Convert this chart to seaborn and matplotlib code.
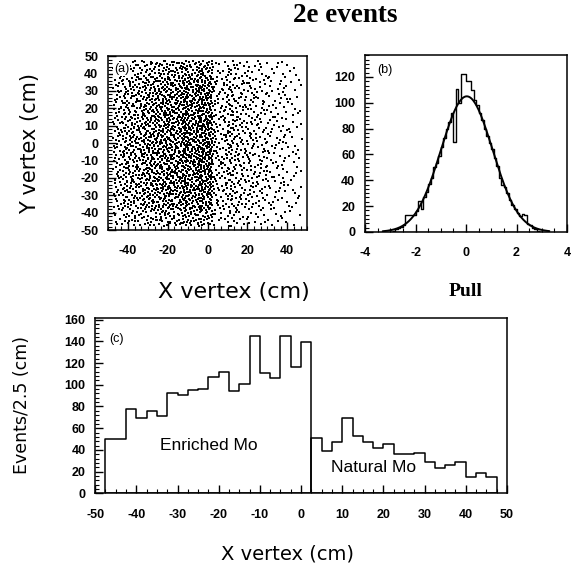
import numpy as np
import pandas as pd
import matplotlib
matplotlib.use("Agg")
import matplotlib.pyplot as plt
import seaborn as sns
from matplotlib.ticker import MultipleLocator

# ---------------- data ----------------
# Panel (c): events per 2.5 cm in X vertex
bin_width = 2.5
enriched_start = -47.5
enriched_counts = [50, 50, 78, 69, 76, 71, 92, 91, 95, 96,
                   107, 112, 94, 101, 145, 111, 106, 145, 116, 139]
natural_start = 2.5
natural_counts = [51, 39, 47, 69, 53, 47, 42, 45, 36, 36,
                  37, 29, 23, 26, 29, 15, 19, 15]

# Panel (b): pull distribution, bins of 0.1 from -3 to 3
pull_start = -3.0
pull_width = 0.1
pull_counts = [0, 1, 2, 3, 4, 5, 13, 13, 13, 13,
               16, 24, 18, 27, 31, 37, 42, 50, 53, 59,
               66, 73, 80, 85, 92, 70, 111, 100, 122, 122,
               117, 117, 110, 102, 98, 92, 87, 80, 74, 69,
               64, 57, 51, 42, 36, 35, 30, 25, 21, 18,
               15, 12, 14, 13, 6, 5, 3, 2, 1, 0]
fit_amplitude = 105.0
fit_mean = 0.03
fit_sigma = 1.02

# Panel (a): relative density of vertices in Y bands of 10 cm (-50..50)
y_band_edges = [-50, -40, -30, -20, -10, 0, 10, 20, 30, 40, 50]
y_band_weights = [0.7, 1.0, 1.1, 1.1, 1.15, 1.15, 1.1, 1.05, 1.0, 0.75]

# ---------------- styling ----------------
sns.set_theme(style="ticks")
plt.rcParams["font.family"] = ["Liberation Sans", "DejaVu Sans"]
plt.rcParams["axes.unicode_minus"] = False
plt.rcParams["axes.linewidth"] = 1.1
plt.rcParams["xtick.direction"] = "in"
plt.rcParams["ytick.direction"] = "in"
plt.rcParams["text.color"] = "black"
plt.rcParams["axes.labelcolor"] = "black"
plt.rcParams["xtick.color"] = "black"
plt.rcParams["ytick.color"] = "black"
plt.rcParams["axes.edgecolor"] = "black"

fig = plt.figure(figsize=(5.84, 5.67), dpi=100)

ax_a = fig.add_axes([0.185, 0.594, 0.341, 0.307])
ax_b = fig.add_axes([0.625, 0.591, 0.346, 0.312])
ax_c = fig.add_axes([0.163, 0.130, 0.705, 0.310])


def style_axis(ax, xpad=11):
    for s in ax.spines.values():
        s.set_color("black")
        s.set_linewidth(1.1)
    ax.tick_params(which="major", length=6, width=1, colors="black",
                   top=False, right=False, labelsize=9, pad=7)
    ax.tick_params(axis="x", which="major", pad=xpad)
    ax.tick_params(which="minor", length=3, width=0.8, colors="black",
                   top=False, right=False)
    for lbl in ax.get_xticklabels() + ax.get_yticklabels():
        lbl.set_fontweight("bold")


def halton(i, b):
    f, r = 1.0, 0.0
    while i > 0:
        f /= b
        r += f * (i % b)
        i //= b
    return r


# ---------------- panel (a) scatter ----------------
enr_edges = enriched_start + bin_width * np.arange(len(enriched_counts))
nat_edges = natural_start + bin_width * np.arange(len(natural_counts))
x_edges = np.append(enr_edges, np.append(nat_edges, nat_edges[-1] + bin_width))
x_counts = np.array(enriched_counts + natural_counts, dtype=float)
xcdf = np.concatenate([[0.0], np.cumsum(x_counts) / x_counts.sum()])
n_events = int(x_counts.sum())

w = np.array(y_band_weights, dtype=float)
ycdf = np.concatenate([[0.0], np.cumsum(w) / w.sum()])
xs, ys = [], []
for k in range(1, n_events + 1):
    u = halton(k + 11, 2)
    v = halton(k + 11, 3)
    xs.append(np.interp(u, xcdf, x_edges))
    ys.append(np.interp(v, ycdf, y_band_edges) * 0.95)
df_a = pd.DataFrame({"x": xs, "y": ys})
sns.scatterplot(data=df_a, x="x", y="y", ax=ax_a, color="black", marker="s",
                s=3.0, linewidth=0, legend=False)
ax_a.set_xlim(-50, 50)
ax_a.set_ylim(-50, 50)
ax_a.xaxis.set_major_locator(MultipleLocator(20))
ax_a.xaxis.set_minor_locator(MultipleLocator(20 / 6))
ax_a.yaxis.set_major_locator(MultipleLocator(10))
ax_a.yaxis.set_minor_locator(MultipleLocator(2))
ax_a.set_xticks([-40, -20, 0, 20, 40])
ax_a.set_xlabel("X vertex (cm)", fontsize=16, family="DejaVu Sans")
ax_a.xaxis.set_label_coords(0.63, -0.3)
ax_a.set_ylabel("Y vertex (cm)", fontsize=15, family="DejaVu Sans", labelpad=29)
ax_a.text(0.03, 0.96, "(a)", transform=ax_a.transAxes, fontsize=9,
          va="top", ha="left", bbox=dict(facecolor="white", edgecolor="none", pad=0.5))
style_axis(ax_a)

# ---------------- panel (b) pull ----------------
p_centers = pull_start + pull_width * (np.arange(len(pull_counts)) + 0.5)
p_edges = list(pull_start + pull_width * np.arange(len(pull_counts) + 1))
df_b = pd.DataFrame({"pull": p_centers, "n": pull_counts})
sns.histplot(data=df_b, x="pull", weights="n", bins=p_edges, element="step",
             fill=True, color="black", facecolor="none", edgecolor="black",
             linewidth=1.0, ax=ax_b)
xf = np.linspace(-3.3, 3.3, 300)
yf = fit_amplitude * np.exp(-0.5 * ((xf - fit_mean) / fit_sigma) ** 2)
sns.lineplot(x=xf, y=yf, ax=ax_b, color="black", linewidth=1.4)
ax_b.set_xlim(-4, 4)
ax_b.set_ylim(0, 137)
ax_b.xaxis.set_major_locator(MultipleLocator(2))
ax_b.xaxis.set_minor_locator(MultipleLocator(0.5))
ax_b.yaxis.set_major_locator(MultipleLocator(20))
ax_b.yaxis.set_minor_locator(MultipleLocator(20 / 6))
ax_b.set_xlabel("Pull", fontsize=14, family="Liberation Serif",
                fontweight="bold")
ax_b.xaxis.set_label_coords(0.5, -0.29)
ax_b.set_ylabel("")
ax_b.text(0.06, 0.95, "(b)", transform=ax_b.transAxes, fontsize=9,
          va="top", ha="left")
style_axis(ax_b)

# ---------------- panel (c) X vertex ----------------
enr_centers = enr_edges + bin_width / 2
nat_centers = nat_edges + bin_width / 2
df_enr = pd.DataFrame({"x": enr_centers, "n": enriched_counts})
df_nat = pd.DataFrame({"x": nat_centers, "n": natural_counts})
sns.histplot(data=df_enr, x="x", weights="n",
             bins=list(np.append(enr_edges, enr_edges[-1] + bin_width)),
             element="step", fill=True, color="black", facecolor="none",
             edgecolor="black", linewidth=1.1, ax=ax_c)
sns.histplot(data=df_nat, x="x", weights="n",
             bins=list(np.append(nat_edges, nat_edges[-1] + bin_width)),
             element="step", fill=True, color="black", facecolor="none",
             edgecolor="black", linewidth=1.1, ax=ax_c)
ax_c.set_xlim(-50, 50)
ax_c.set_ylim(0, 162)
ax_c.xaxis.set_major_locator(MultipleLocator(10))
ax_c.xaxis.set_minor_locator(MultipleLocator(2.5))
ax_c.yaxis.set_major_locator(MultipleLocator(20))
ax_c.yaxis.set_minor_locator(MultipleLocator(4))
ax_c.set_xlabel("X vertex (cm)", fontsize=14, family="DejaVu Sans")
ax_c.xaxis.set_label_coords(0.466, -0.29)
ax_c.set_ylabel("Events/2.5 (cm)", fontsize=12.5, family="DejaVu Sans",
                labelpad=24)
ax_c.text(-46.5, 142, "(c)", fontsize=9, va="center", ha="left")
ax_c.text(-22.5, 44, "Enriched Mo", fontsize=12.5, va="center", ha="center")
ax_c.text(17.5, 24, "Natural Mo", fontsize=12.5, va="center", ha="center")
style_axis(ax_c)

fig.text(0.591, 0.973, "2e events", fontsize=19.5, family="Liberation Serif",
         fontweight="bold", ha="center", va="center")

fig.savefig("out.png", dpi=100, facecolor="white")
